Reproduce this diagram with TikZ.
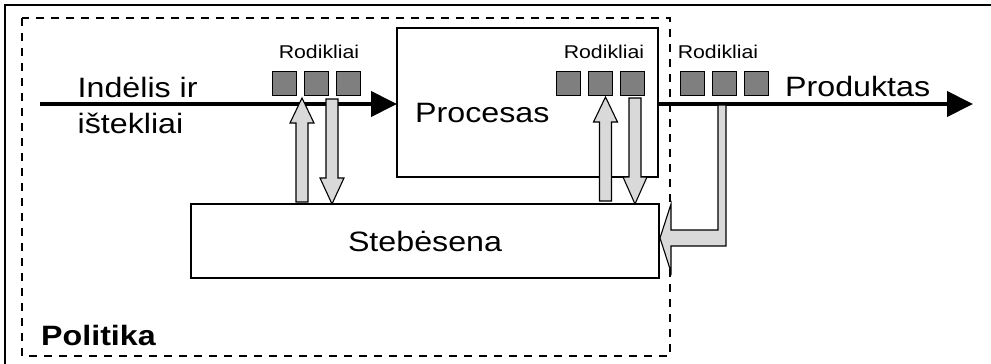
\documentclass[tikz,border=0pt]{standalone}
\usepackage{fontspec}
\setmainfont{Liberation Sans}[FakeStretch=1.15]
\usetikzlibrary{arrows.meta}
\definecolor{sqgray}{HTML}{7F7F7F}
\definecolor{arrgray}{HTML}{D9D9D9}
\newcommand\blockarr[4]{% x centre, tip y, head base y, tail y
  \draw[blk] (#1,#2) -- (#1+12,#3) -- (#1+6,#3) -- (#1+6,#4) -- (#1-6,#4)
    -- (#1-6,#3) -- (#1-12,#3) -- cycle;}
\begin{document}
\begin{tikzpicture}[x=1pt,y=-1pt,
  box/.style={draw, line width=2pt, fill=white, inner sep=0pt, outer sep=0pt, anchor=north west},
  sq/.style={draw, line width=1.2pt, fill=sqgray, minimum width=24pt, minimum height=24pt, inner sep=0pt, anchor=north west},
  blk/.style={draw, line width=1.1pt, fill=arrgray, line join=miter},
  mainline/.style={line width=4pt, -{Triangle[length=26pt,width=25pt]}},
  lbl/.style={font=\fontsize{18.5}{20}\selectfont, anchor=base, inner sep=0pt},
  big/.style={font=\fontsize{28}{34}\selectfont, inner sep=0pt},
  frame/.style={line width=2pt},
  dashframe/.style={line width=2pt, dash pattern=on 8pt off 7pt}]
\useasboundingbox (0,0) rectangle (991,364);
% outer frame (only top and left visible)
\begin{scope}
\clip (0,0) rectangle (991,364);
\draw[frame] (5,380) -- (5,5) -- (1000,5);
\end{scope}
% dashed policy frame
\draw[dashframe] (22,18) rectangle (670,356);
% boxes
\node[box, minimum width=261pt, minimum height=149pt] (proc) at (397,28) {};
\node[box, minimum width=468pt, minimum height=74pt] (steb) at (191,204) {};
% texts
\node[big, anchor=base west] (in1) at (77.5,97) {Indėlis ir};
\node[big, anchor=base west] (in2) at (77.5,133) {ištekliai};
\node[big, anchor=base west] (proct) at (415,122) {Procesas};
\node[big, anchor=base west] (prodt) at (785,96) {Produktas};
\node[big] (stebt) at (steb.center) {Stebėsena};
\node[big, anchor=base west, font=\fontsize{28}{34}\selectfont\bfseries] (pol) at (41,345) {Politika};
\node[lbl] (r1) at (319,58) {Rodikliai};
\node[lbl] (r2) at (604,58) {Rodikliai};
\node[lbl] (r3) at (718,58) {Rodikliai};
% main flow
\coordinate (instart) at (40,104);
\coordinate (outend) at (973,104);
\draw[mainline] (instart) -- (instart -| proc.west);
\draw[mainline] (proc.east |- outend) -- (outend);
% indicator squares
\node[sq] (a1) at (272,71) {};
\node[sq] (a2) at (304,71) {};
\node[sq] (a3) at (336,71) {};
\node[sq] (b1) at (556,71) {};
\node[sq] (b2) at (588,71) {};
\node[sq] (b3) at (620,71) {};
\node[sq] (c1) at (680,71) {};
\node[sq] (c2) at (712,71) {};
\node[sq] (c3) at (744,71) {};
% block arrows
\blockarr{302}{98}{123}{202}
\blockarr{332}{204}{178}{99}
\blockarr{605.5}{97}{122}{201}
\blockarr{635}{204}{177}{98}
% elbow arrow from product line to monitoring
\draw[blk] (718,105) -- (726,105) -- (726,246) -- (671,246) -- (671,272)
  -- (660,238) -- (671,204) -- (671,230) -- (718,230) -- cycle;
\end{tikzpicture}
\end{document}
